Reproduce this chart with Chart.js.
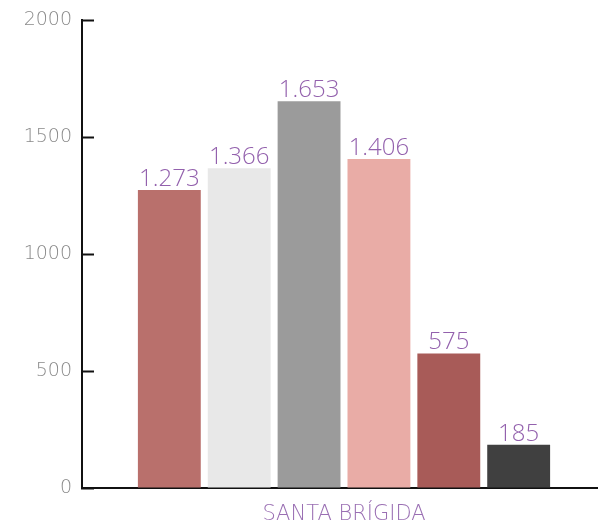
<!DOCTYPE html>
<html>
<head>
<meta charset="utf-8">
<script src="https://cdn.jsdelivr.net/npm/chart.js@4"></script>
<style>
  html, body { margin: 0; padding: 0; background: #fff; overflow: hidden; }
  #wrap { width: 606px; height: 526px; }
</style>
</head>
<body>
<div id="wrap"><canvas id="chart" width="606" height="526"></canvas></div>
<script>
const categories = ['SANTA BRÍGIDA'];
const seriesNames = ['Serie 1', 'Serie 2', 'Serie 3', 'Serie 4', 'Serie 5', 'Serie 6'];
const seriesValues = [[1273], [1366], [1653], [1406], [575], [185]];
const seriesColors = ['#b9706c', '#e8e8e8', '#9b9b9b', '#e9aca6', '#a85b58', '#404040'];
const yTicks = [0, 500, 1000, 1500, 2000];

const fontFamily = '"Open Sans", Lato, sans-serif';

// thousands with a dot, like 1.273
function fmt(v) {
  return String(v).replace(/\B(?=(\d{3})+(?!\d))/g, '.');
}

const valueLabels = {
  id: 'valueLabels',
  afterDatasetsDraw(chart) {
    const ctx = chart.ctx;
    ctx.save();
    ctx.fillStyle = '#9361ad';
    ctx.font = '300 24px ' + fontFamily;
    ctx.textAlign = 'center';
    ctx.textBaseline = 'alphabetic';
    chart.data.datasets.forEach((ds, i) => {
      chart.getDatasetMeta(i).data.forEach((bar, j) => {
        ctx.fillText(fmt(ds.data[j]), bar.x, bar.y - 4);
      });
    });
    ctx.restore();
  }
};

new Chart(document.getElementById('chart'), {
  type: 'bar',
  data: {
    labels: categories,
    datasets: seriesNames.map((name, i) => ({
      label: name,
      data: seriesValues[i],
      backgroundColor: seriesColors[i],
      borderWidth: 0,
      categoryPercentage: 0.8,
      barPercentage: 0.9
    }))
  },
  options: {
    responsive: false,
    animation: false,
    layout: { padding: { top: 20, left: 0, right: 0, bottom: 0 } },
    plugins: {
      legend: { display: false },
      tooltip: { enabled: false }
    },
    scales: {
      x: {
        grid: { display: true, drawOnChartArea: false, drawTicks: false },
        border: { display: true, color: '#111', width: 2 },
        ticks: { color: '#9a6fb3', padding: 14, font: { family: '"DejaVu Sans", sans-serif', size: 21, weight: '300' } },
        afterFit(scale) { scale.height = 38; }
      },
      y: {
        min: yTicks[0],
        max: yTicks[yTicks.length - 1],
        afterBuildTicks(scale) { scale.ticks = yTicks.map(v => ({ value: v })); },
        grid: { display: true, drawOnChartArea: false, drawTicks: true, tickLength: -12, tickColor: '#111', tickWidth: 2 },
        border: { display: true, color: '#111', width: 2 },
        ticks: {
          color: '#8a8a8a',
          padding: 22,
          font: { family: '"DejaVu Sans", sans-serif', size: 19, weight: '300' },
          callback: v => String(v)
        },
        afterFit(scale) {
          scale.width = 82;
          scale.paddingTop = 0;
          scale.paddingBottom = 0;
        }
      }
    }
  },
  plugins: [valueLabels]
});
</script>
</body>
</html>
